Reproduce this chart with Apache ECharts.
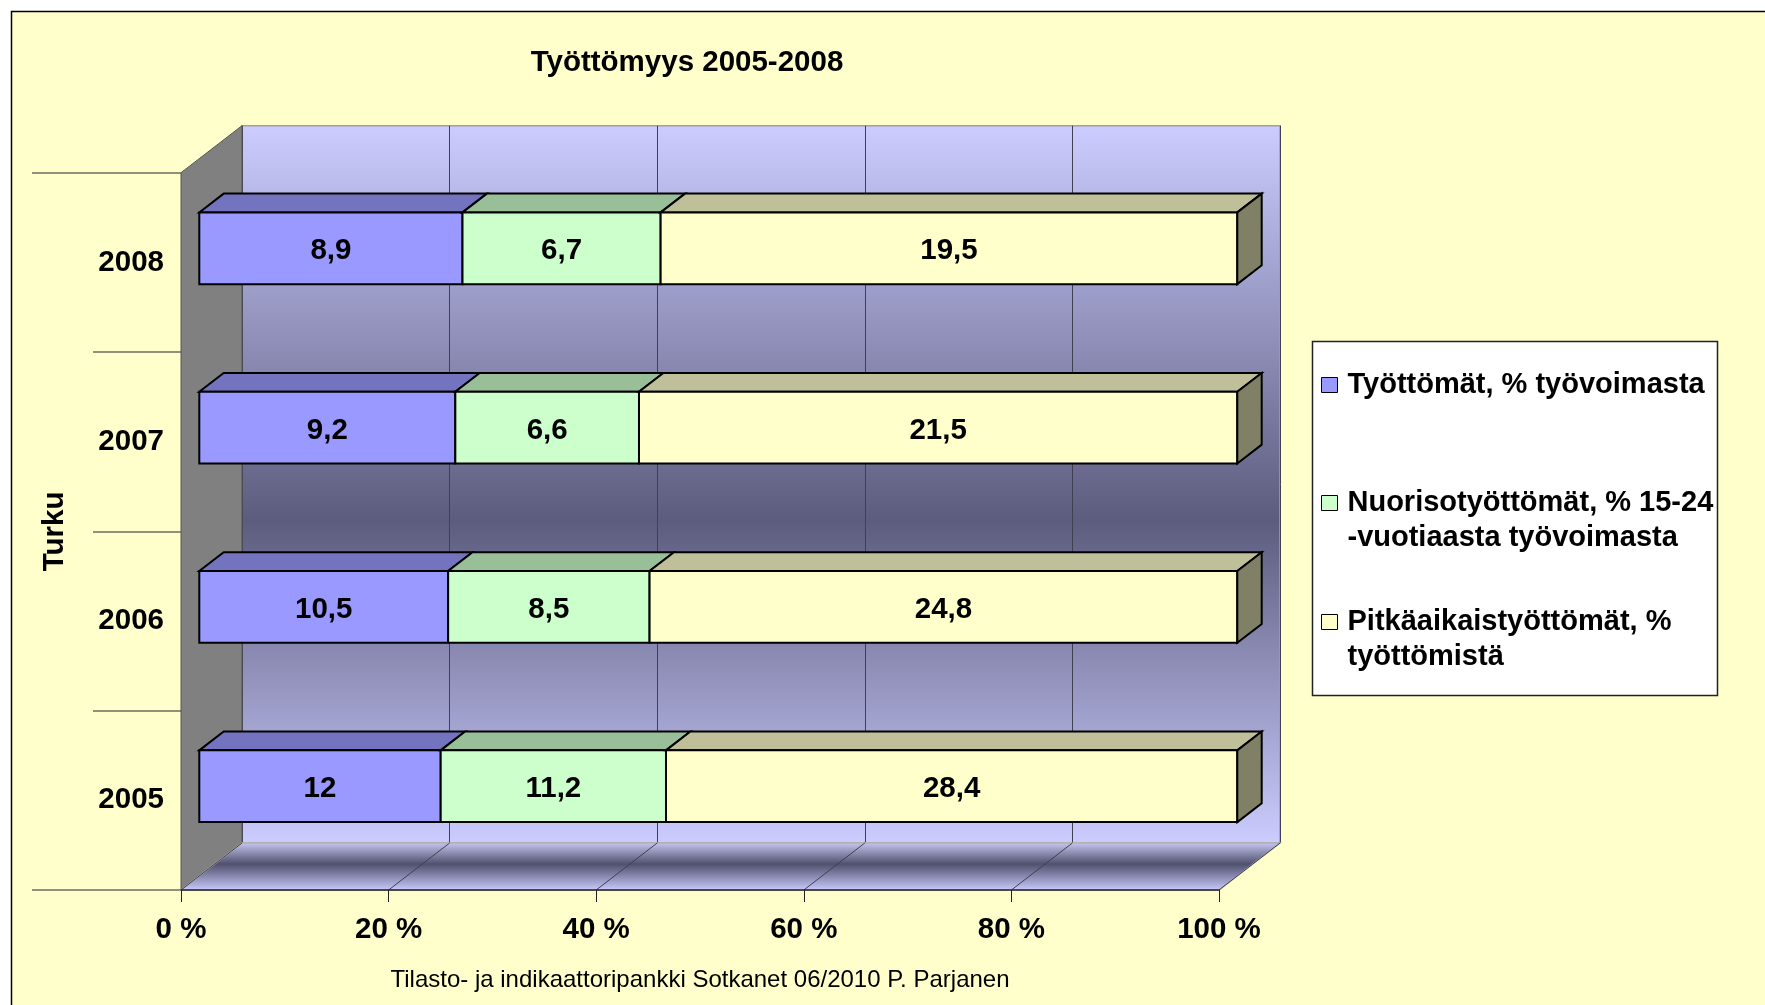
<!DOCTYPE html>
<html>
<head>
<meta charset="utf-8">
<title>Työttömyys 2005-2008</title>
<script src="https://cdn.jsdelivr.net/npm/echarts@6/dist/echarts.min.js"></script>
<style>
  html, body { margin: 0; padding: 0; background: #fff; }
  #chart { width: 1765px; height: 1005px; }
</style>
</head>
<body>
<div id="chart"></div>
<script>
// data
var years = ['2005', '2006', '2007', '2008'];
var tyottomat = [12, 10.5, 9.2, 8.9];
var nuoriso = [11.2, 8.5, 6.6, 6.7];
var pitkaaikais = [28.4, 24.8, 21.5, 19.5];
var seriesNames = ['Työttömät, % työvoimasta', 'Nuorisotyöttömät, % 15-24 -vuotiaasta työvoimasta', 'Pitkäaikaistyöttömät, % työttömistä'];
// a leading empty line keeps the legend square level with the first text line
var legendLabels = ['Työttömät, % työvoimasta', '\nNuorisotyöttömät, % 15-24\n-vuotiaasta työvoimasta', '\nPitkäaikaistyöttömät, %\ntyöttömistä'];
var xTicks = [0, 20, 40, 60, 80, 100];

// looks
var FONT = '"Liberation Sans", Arial, sans-serif';
var frontColors = ['#9999FF', '#CCFFCC', '#FFFFCC'];
var topColors = ['#7373BF', '#99BF99', '#BFBF99'];
var sideColors = ['#73738F', '#80997F', '#808066'];
var DX = 61, DY = -47;   // depth of the 3d box

var allValues = [tyottomat, nuoriso, pitkaaikais];
var totals = years.map(function (y, j) {
    return tyottomat[j] + nuoriso[j] + pitkaaikais[j];
});

function seriesData(k) {
    return years.map(function (y, j) {
        var before = 0;
        for (var m = 0; m < k; m++) before += allValues[m][j];
        var start = before / totals[j] * 100;
        var end = (before + allValues[k][j]) / totals[j] * 100;
        return [start, end, j, allValues[k][j]];
    });
}

function fmt(v) {
    return String(v).replace('.', ',');
}

function renderBar(params, api) {
    var k = params.seriesIndex - 2;
    var p0 = api.coord([api.value(0), api.value(2)]);
    var p1 = api.coord([api.value(1), api.value(2)]);
    var h = api.size([0, 1])[1] * 0.4;
    var x0 = p0[0] + DX * 0.3, x1 = p1[0] + DX * 0.3;
    var y0 = p0[1] + DY * 0.3 - h / 2, y1 = y0 + h;
    var dx = DX * 0.4, dy = DY * 0.4;
    var line = {stroke: '#000', lineWidth: 2, lineJoin: 'miter'};
    var children = [
        {type: 'polygon', shape: {points: [[x0, y0], [x1, y0], [x1 + dx, y0 + dy], [x0 + dx, y0 + dy]]},
         style: Object.assign({fill: topColors[k]}, line)},
        {type: 'rect', shape: {x: x0, y: y0, width: x1 - x0, height: h},
         style: Object.assign({fill: frontColors[k]}, line)},
        {type: 'text', style: {text: fmt(api.value(3)), x: (x0 + x1) / 2, y: (y0 + y1) / 2 + 3,
         align: 'center', verticalAlign: 'middle', fill: '#000', font: 'bold 29.5px ' + FONT}}
    ];
    if (k === 2) {
        children.push({type: 'polygon', shape: {points: [[x1, y0], [x1 + dx, y0 + dy], [x1 + dx, y1 + dy], [x1, y1]]},
            style: Object.assign({fill: sideColors[k]}, line)});
    }
    return {type: 'group', children: children};
}

var wallGradient = {type: 'linear', x: 0, y: 0, x2: 0, y2: 1, colorStops: [
    {offset: 0, color: '#CCCCFF'}, {offset: 0.55, color: '#5C5C7E'}, {offset: 1, color: '#CCCCFF'}]};
var floorGradient = {type: 'linear', x: 0, y: 0, x2: 0, y2: 1, colorStops: [
    {offset: 0, color: '#C8C8F2'}, {offset: 0.45, color: '#50506E'}, {offset: 1, color: '#CCCCFF'}]};

var myChart = echarts.init(document.getElementById('chart'));

var option = {
    backgroundColor: '#FFFFCC',
    animation: false,
    title: [{
        text: 'Työttömyys 2005-2008',
        left: 687, top: 63, padding: 0,
        textAlign: 'center', textVerticalAlign: 'middle',
        textStyle: {fontFamily: FONT, fontSize: 29.5, fontWeight: 'bold', color: '#000'}
    }, {
        text: 'Tilasto- ja indikaattoripankki Sotkanet 06/2010 P. Parjanen',
        left: 700, top: 980, padding: 0,
        textAlign: 'center', textVerticalAlign: 'middle',
        textStyle: {fontFamily: FONT, fontSize: 24, fontWeight: 'normal', color: '#000'}
    }],
    legend: seriesNames.map(function (name, i) {
        return {
            data: [name],
            formatter: function () { return legendLabels[i]; },
            left: 1321,
            top: [367.5, 450.5, 569.5][i],
            padding: 0,
            icon: 'rect',
            itemWidth: 16, itemHeight: 15,
            itemStyle: {borderColor: '#000', borderWidth: 1},
            selectedMode: false,
            textStyle: {fontFamily: FONT, fontSize: 29, fontWeight: 'bold', color: '#000', lineHeight: 35, padding: [0, 0, 0, 5]}
        };
    }),
    grid: [
        {left: 181, top: 172.7, width: 1038, height: 717.3},
        {left: 242, top: 125.7, width: 1038, height: 717.3, show: true,
         backgroundColor: wallGradient, borderColor: '#A0A0A0', borderWidth: 1.5}
    ],
    xAxis: [{
        type: 'value', gridIndex: 0, min: 0, max: 100, interval: 20, z: 5,
        axisLine: {show: true, lineStyle: {color: '#222', width: 1.5}},
        axisTick: {show: true, length: 12, lineStyle: {color: '#222'}},
        axisLabel: {margin: 25, formatter: '{value} %', fontFamily: FONT, fontSize: 29.5, fontWeight: 'bold', color: '#000'},
        splitLine: {show: false}
    }, {
        type: 'value', gridIndex: 1, min: 0, max: 100, interval: 20,
        axisLine: {show: false}, axisTick: {show: false}, axisLabel: {show: false},
        splitLine: {show: true, lineStyle: {color: '#404050', width: 1}}
    }],
    yAxis: [{
        type: 'category', gridIndex: 0, data: years, position: 'left',
        axisLine: {show: false},
        axisTick: {show: true, interval: 0, length: 88, lineStyle: {color: '#6E6E5E', width: 1.5}},
        axisLabel: {margin: 17, padding: [5, 0, 0, 0], fontFamily: FONT, fontSize: 29.5, fontWeight: 'bold', color: '#000'}
    }, {
        type: 'category', gridIndex: 0, data: ['Turku'], position: 'left',
        axisLine: {show: false},
        axisTick: {show: true, interval: 0, length: 149, lineStyle: {color: '#6E6E5E', width: 1.5}},
        axisLabel: {rotate: 90, margin: 111, fontFamily: FONT, fontSize: 29.5, fontWeight: 'bold', color: '#000'}
    }, {
        type: 'value', gridIndex: 1, show: false, splitLine: {show: false}
    }],
    graphic: [
        {type: 'rect', shape: {x: 0, y: 0, width: 1765, height: 11}, style: {fill: '#fff'}, silent: true},
        {type: 'rect', shape: {x: 0, y: 0, width: 11.5, height: 1005}, style: {fill: '#fff'}, silent: true},
        {type: 'polyline', shape: {points: [[11.5, 1005], [11.5, 11.5], [1765, 11.5]]}, style: {stroke: '#000', lineWidth: 1.5, fill: null}, silent: true},
        {type: 'rect', shape: {x: 1312.5, y: 341.5, width: 405, height: 354}, style: {fill: '#fff', stroke: '#222', lineWidth: 1.5}, silent: true}
    ],
    series: [{
        // side wall and floor
        type: 'custom', name: 'frame', xAxisIndex: 0, yAxisIndex: 0, silent: true, z: 1,
        data: [[0, 0]],
        encode: {x: 0, y: 1},
        renderItem: function (params) {
            var cs = params.coordSys;
            var l = cs.x, t = cs.y, r = cs.x + cs.width, b = cs.y + cs.height;
            return {type: 'group', children: [
                {type: 'polygon', shape: {points: [[l, t], [l + DX, t + DY], [l + DX, b + DY], [l, b]]},
                 style: {fill: '#808080', stroke: '#555', lineWidth: 1}},
                {type: 'polygon', shape: {points: [[l, b], [r, b], [r + DX, b + DY], [l + DX, b + DY]]},
                 style: {fill: floorGradient, stroke: '#B4B4B4', lineWidth: 1.5}}
            ]};
        }
    }, {
        // floor grid lines
        type: 'custom', name: 'floorLines', xAxisIndex: 0, yAxisIndex: 0, silent: true, z: 1,
        data: xTicks.map(function (v) { return [v, 0]; }),
        encode: {x: 0, y: 1},
        renderItem: function (params, api) {
            var cs = params.coordSys;
            var x = api.coord([api.value(0), 0])[0];
            var b = cs.y + cs.height;
            return {type: 'line', shape: {x1: x, y1: b, x2: x + DX, y2: b + DY},
                    style: {stroke: '#404050', lineWidth: 1}};
        }
    }].concat(seriesNames.map(function (name, k) {
        return {
            type: 'custom', name: name, xAxisIndex: 0, yAxisIndex: 0, z: 2,
            itemStyle: {color: frontColors[k]},
            data: seriesData(k),
            encode: {x: [0, 1], y: 2},
            renderItem: renderBar
        };
    }))
};

myChart.setOption(option);
</script>
</body>
</html>
